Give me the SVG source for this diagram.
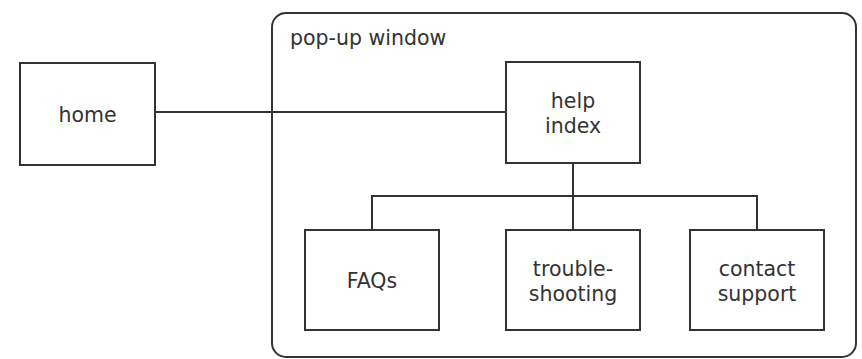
<svg xmlns="http://www.w3.org/2000/svg" width="862" height="359" viewBox="0 0 862 359">
<style>
  .box { fill: #fff; stroke: #333; stroke-width: 2; }
  .frame { fill: #fff; stroke: #333; stroke-width: 2; }
  .lbl { font-family: "DejaVu Sans", Verdana, sans-serif; font-size: 20.5px; fill: #333; text-anchor: middle; }
  .title { font-family: "DejaVu Sans", Verdana, sans-serif; font-size: 20.5px; fill: #333; }
  .conn { fill: none; stroke: #333; stroke-width: 2; }
</style>
<rect width="862" height="359" fill="#fff"/>
<g id="popup">
  <rect class="frame" x="272" y="13" width="584" height="344" rx="14" ry="14"/>
  <text class="title" x="290" y="45">pop-up window</text>
</g>
<g id="connectors">
  <line class="conn" x1="155" y1="112" x2="506" y2="112"/>
  <line class="conn" x1="573" y1="163" x2="573" y2="230"/>
  <path class="conn" d="M372 230 V196 H757 V230"/>
</g>
<g id="home">
  <rect class="box" x="20" y="63" width="135" height="102"/>
  <text class="lbl" x="87.5" y="122">home</text>
</g>
<g id="help-index">
  <rect class="box" x="506" y="62" width="134" height="101"/>
  <text class="lbl" x="573" y="108">help</text>
  <text class="lbl" x="573" y="133">index</text>
</g>
<g id="faqs">
  <rect class="box" x="305" y="230" width="134" height="100"/>
  <text class="lbl" x="372" y="288">FAQs</text>
</g>
<g id="troubleshooting">
  <rect class="box" x="506" y="230" width="134" height="100"/>
  <text class="lbl" x="573" y="275.5">trouble-</text>
  <text class="lbl" x="573" y="300.5">shooting</text>
</g>
<g id="contact-support">
  <rect class="box" x="690" y="230" width="134" height="100"/>
  <text class="lbl" x="757" y="275.5">contact</text>
  <text class="lbl" x="757" y="300.5">support</text>
</g>
</svg>
